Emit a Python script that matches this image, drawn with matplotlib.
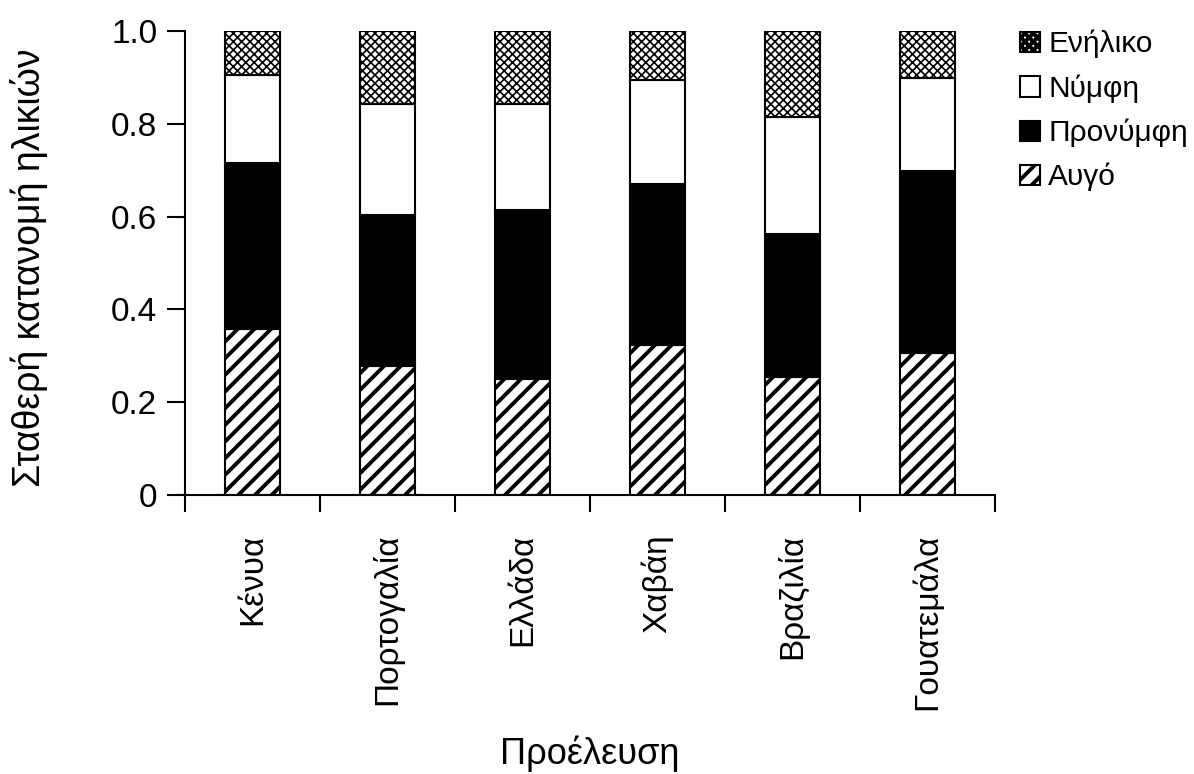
import matplotlib
matplotlib.use("Agg")
import matplotlib.pyplot as plt
import numpy as np

plt.rcParams['font.family'] = ['Liberation Sans', 'DejaVu Sans']
plt.rcParams['hatch.color'] = 'black'

categories = ['Κένυα', 'Πορτογαλία', 'Ελλάδα', 'Χαβάη', 'Βραζιλία', 'Γουατεμάλα']
series_names = ['Αυγό', 'Προνύμφη', 'Νύμφη', 'Ενήλικο']
egg = [0.357, 0.278, 0.250, 0.323, 0.255, 0.307]
larva = [0.359, 0.325, 0.364, 0.347, 0.308, 0.391]
pupa = [0.189, 0.240, 0.229, 0.224, 0.251, 0.201]
adult = [0.095, 0.157, 0.157, 0.106, 0.186, 0.101]
yticks = [0, 0.2, 0.4, 0.6, 0.8, 1.0]
ytick_labels = ['0', '0.2', '0.4', '0.6', '0.8', '1.0']

fig = plt.figure(figsize=(11.94, 7.74), dpi=100)
ax = fig.add_axes([185/1194, 1-495/774, 810/1194, 464/774])

x = np.arange(len(categories))
w = 0.41
styles = [
    dict(facecolor='white', hatch='//', edgecolor='black'),
    dict(facecolor='black', edgecolor='black'),
    dict(facecolor='white', edgecolor='black'),
    dict(facecolor='white', hatch='xxxx', edgecolor='black'),
]
bottom = np.zeros(len(categories))
handles = []
plt.rcParams['hatch.linewidth'] = 2.8
for name, vals, st in zip(series_names, [egg, larva, pupa, adult], styles):
    bars = ax.bar(x, vals, w, bottom=bottom, linewidth=1.5, label=name, **st)
    if st.get('hatch') == 'xxxx':
        for b in bars:
            b._hatch_linewidth = 1.2
    handles.append(bars)
    bottom += np.array(vals)

ax.set_xlim(-0.5, len(categories) - 0.5)
ax.set_ylim(0, 1.0)
ax.set_yticks(yticks)
ax.set_yticklabels(ytick_labels, fontsize=24)
ax.set_xticks(x)
ax.set_xticklabels(categories, rotation=90, fontsize=24, va='top')
ax.set_xticks(np.arange(len(categories) + 1) - 0.5, minor=True)
ax.tick_params(axis='x', which='major', length=0, pad=28)
ax.tick_params(axis='x', which='minor', length=12, width=1.5, direction='out')
ax.tick_params(axis='y', length=13, width=1.5, direction='out', pad=7)
for s in ['top', 'right']:
    ax.spines[s].set_visible(False)
for s in ['left', 'bottom']:
    ax.spines[s].set_linewidth(1.5)

ax.set_ylabel('Σταθερή κατανομή ηλικιών', fontsize=27)
ax.yaxis.set_label_coords(-137/810, (495-268)/464)
ax.set_xlabel('Προέλευση', fontsize=26)
ax.xaxis.set_label_coords(0.5, -(736-495)/464)

leg = fig.legend(handles[::-1], series_names[::-1], loc='upper left',
                 bbox_to_anchor=(1020/1194, 1-30/774), frameon=False,
                 fontsize=21.5, handlelength=0.67, handleheight=0.67,
                 handletextpad=0.27, labelspacing=0.53, borderpad=0, borderaxespad=0)

fig.savefig('out.png', dpi=100)
